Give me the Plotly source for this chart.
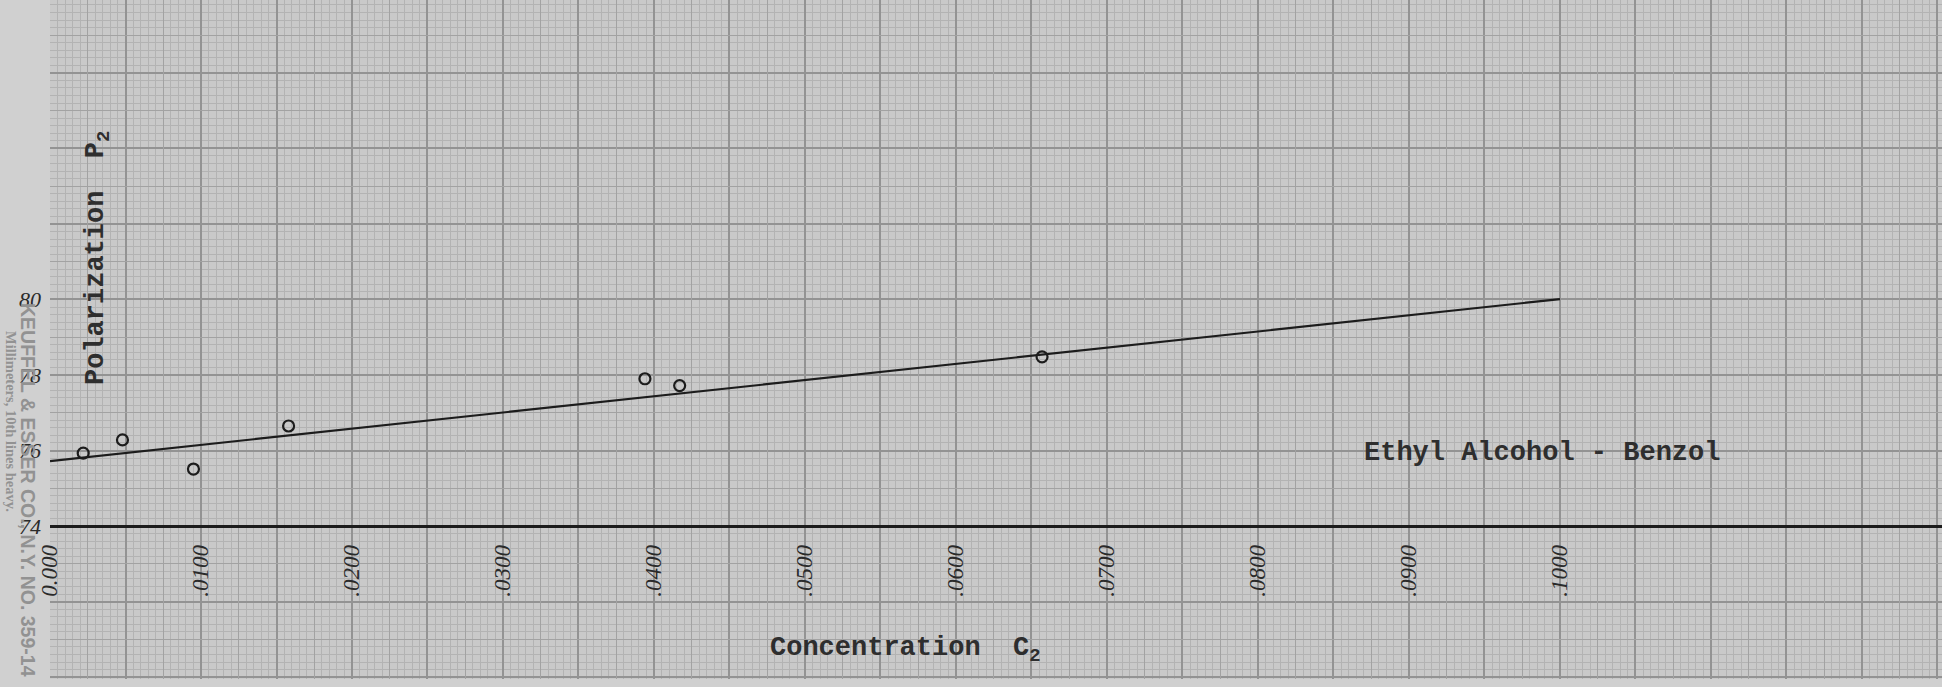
import plotly.graph_objects as go

# ---- data ----
conc = [0.0022, 0.0048, 0.0095, 0.0158, 0.0394, 0.0417, 0.0657]
polar = [75.93, 76.28, 75.51, 76.65, 77.90, 77.72, 78.48]
fit_conc = [0.0, 0.1]
fit_polar = [75.72, 80.01]
x_tickvals = [0.0, 0.01, 0.02, 0.03, 0.04, 0.05, 0.06, 0.07, 0.08, 0.09, 0.10]
x_ticktext = ["0.000", ".0100", ".0200", ".0300", ".0400", ".0500",
              ".0600", ".0700", ".0800", ".0900", ".1000"]
y_tickvals = [74, 76, 78, 80]
y_ticktext = ["74", "76", "78", "80"]
baseline_value = 74

# ---- styling ----
W, H = 1942, 687
ML, MB = 50, 8
PW, PH = W - ML, H - MB
X_RANGE = [0.0, 0.1253]
Y_RANGE = [69.95, 87.93]
INK = "#1c1c1c"
HEAVY = "#939393"
MEDIUM = "#a2a2a2"
MINOR = "#b3b3b3"
PAPER = "#d0d0d0"
PLOT_BG = "#c9c9c9"
TYPE_FONT = "Liberation Mono"
HAND_FONT = "Liberation Serif"


def fx(px):
    return (px - ML) / PW


def fy(py):
    return (PH - py) / PH


fig = go.Figure()

fig.add_trace(go.Scatter(
    x=fit_conc, y=fit_polar, mode="lines",
    line=dict(color=INK, width=2.2), hoverinfo="skip", showlegend=False,
))
fig.add_trace(go.Scatter(
    x=conc, y=polar, mode="markers",
    marker=dict(symbol="circle-open", size=11, color=INK, line=dict(width=2.2, color=INK)),
    showlegend=False,
))
# empty traces registering the overlay subplots (grid + labels)
fig.add_trace(go.Scatter(x=[], y=[], xaxis="x2", yaxis="y2", showlegend=False))
fig.add_trace(go.Scatter(x=[], y=[], xaxis="x3", yaxis="y3", showlegend=False))

pos74 = (baseline_value - Y_RANGE[0]) / (Y_RANGE[1] - Y_RANGE[0])

common = dict(zeroline=False, showticklabels=False, ticks="", showline=False, fixedrange=True)

fig.update_layout(
    width=W, height=H,
    margin=dict(l=ML, r=0, t=0, b=MB),
    paper_bgcolor=PAPER, plot_bgcolor=PLOT_BG,
    showlegend=False,
    xaxis=dict(range=X_RANGE, tickmode="linear", tick0=0, dtick=0.005,
               showgrid=True, gridcolor=HEAVY, gridwidth=1.8,
               minor=dict(tickmode="linear", tick0=0, dtick=0.0005, showgrid=True,
                          gridcolor=MINOR, gridwidth=1),
               **common),
    yaxis=dict(range=Y_RANGE, tickmode="linear", tick0=74, dtick=2,
               showgrid=True, gridcolor=HEAVY, gridwidth=1.8,
               minor=dict(tickmode="linear", tick0=74, dtick=0.2, showgrid=True,
                          gridcolor=MINOR, gridwidth=1),
               **common),
    xaxis2=dict(range=X_RANGE, overlaying="x", anchor="y2", tickmode="linear",
                tick0=0.0025, dtick=0.005, showgrid=True, gridcolor=MEDIUM, gridwidth=1.3,
                **common),
    yaxis2=dict(range=Y_RANGE, overlaying="y", anchor="x2", tickmode="linear",
                tick0=75, dtick=2, showgrid=True, gridcolor=MEDIUM, gridwidth=1.3,
                **common),
    xaxis3=dict(range=X_RANGE, overlaying="x", anchor="free", position=pos74,
                side="bottom", tickmode="array", tickvals=x_tickvals, ticktext=x_ticktext,
                tickangle=-90, ticks="", showgrid=False, zeroline=False,
                showline=True, linecolor=INK, linewidth=2.6,
                ticklabelstandoff=8,
                tickfont=dict(family=HAND_FONT, size=23, color="#2a2a2a", style="italic"),
                fixedrange=True),
    yaxis3=dict(range=Y_RANGE, overlaying="y", anchor="x3", side="left",
                tickmode="array", tickvals=y_tickvals, ticktext=y_ticktext,
                ticks="", showgrid=False, zeroline=False, showline=False,
                ticklabelstandoff=8,
                tickfont=dict(family=HAND_FONT, size=22, color="#2a2a2a", style="italic"),
                fixedrange=True),
)

ann = dict(xref="paper", yref="paper", showarrow=False, xanchor="center", yanchor="middle")
type_font = dict(family=TYPE_FONT, size=27, color="#2e2e2e", weight="bold")

# typed labels
fig.add_annotation(text="Polarization  P<sub>2</sub>", textangle=-90,
                   x=fx(98), y=fy(258), font=type_font, **ann)
fig.add_annotation(text="Concentration  C<sub>2</sub>",
                   x=fx(905), y=fy(650), font=type_font, **ann)
fig.add_annotation(text="Ethyl Alcohol - Benzol",
                   x=fx(1542), y=fy(453), font=type_font, **ann)
# printed paper maker's imprint in the margin
fig.add_annotation(text="KEUFFEL &amp; ESSER CO., N.Y. NO. 359-14", textangle=90,
                   x=fx(28), y=fy(490),
                   font=dict(family="Liberation Sans", size=19.5, color="#929292", weight="bold"),
                   **ann)
fig.add_annotation(text="Millimeters, 10th lines heavy.", textangle=90,
                   x=fx(11), y=fy(421),
                   font=dict(family="Liberation Serif", size=14.5, color="#929292", weight="bold"),
                   **ann)

fig.write_html("out.html", config={"displayModeBar": False},
               post_script="document.body.style.margin='0px';")
